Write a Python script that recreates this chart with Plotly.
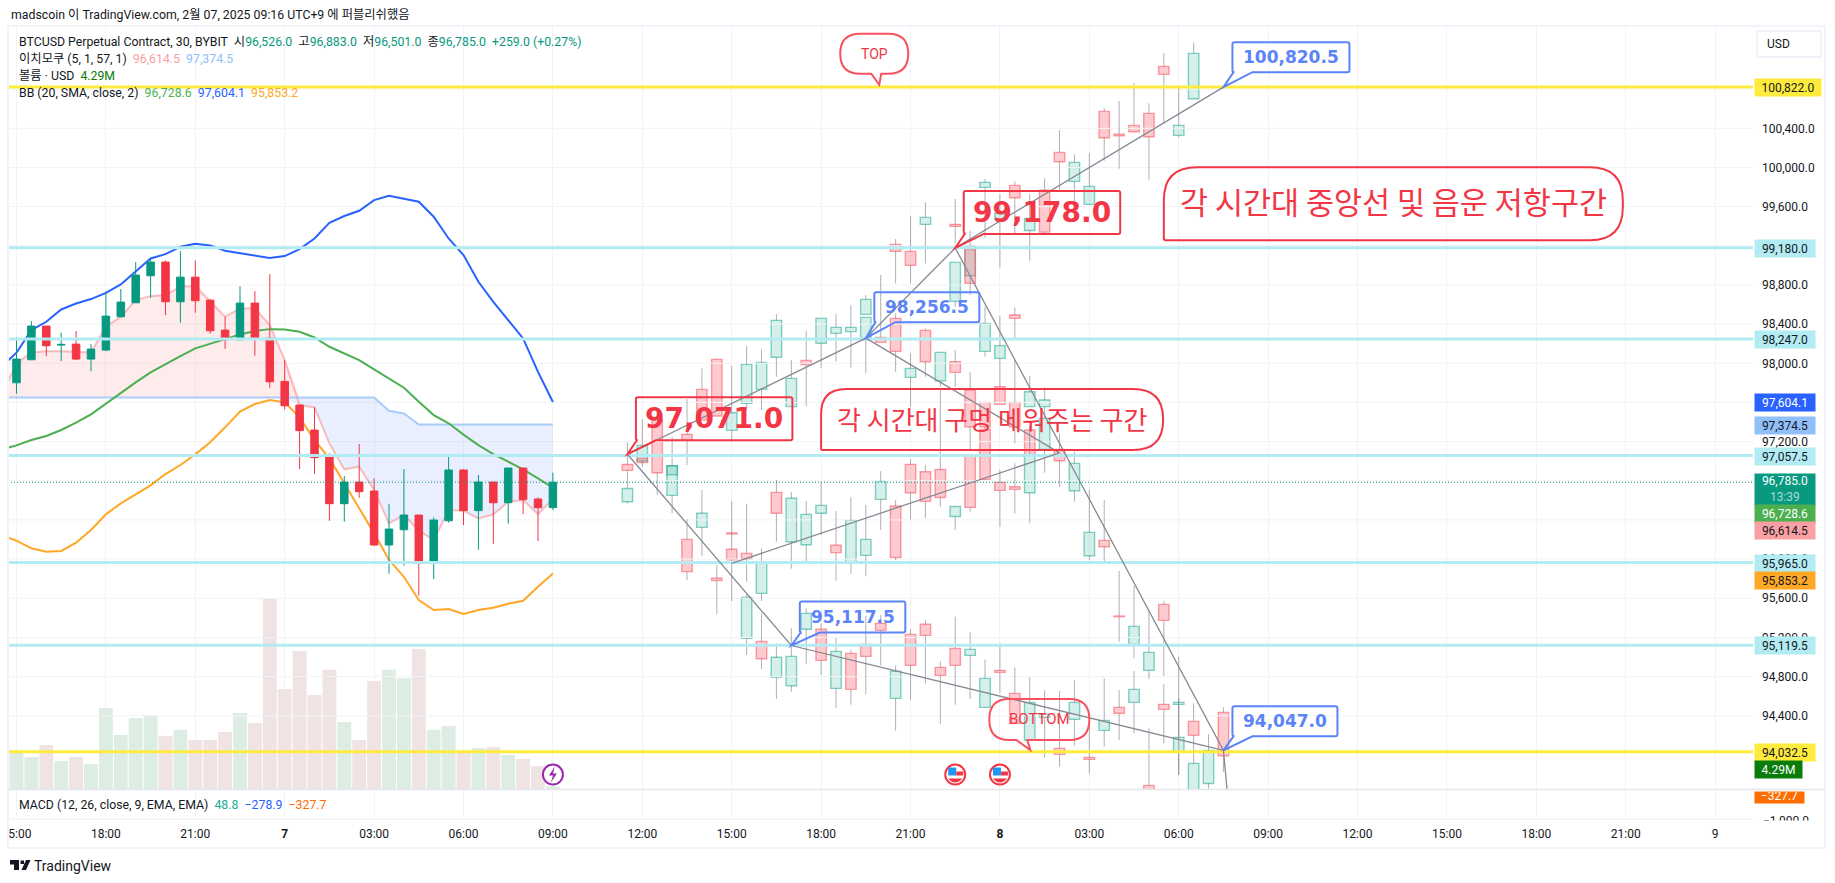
import pandas as pd
import plotly.graph_objects as go

W, H = 1835, 883
FONT = "Roboto, Noto Sans CJK KR, sans-serif"
NOTE_FONT = "DejaVu Sans, Noto Sans CJK KR, sans-serif"
KOREAN_FONT = "Noto Sans CJK KR, sans-serif"
INK = "#131722"
GREEN, RED = "#089981", "#f23645"
CALLOUT_RED, CALLOUT_BLUE = "#f23645", "#5b84f8"

# --- 30-minute BTCUSD candles, 6 Feb 15:00 to 7 Feb 09:00 ---
bar_open = [97801, 98036, 98380, 98186, 98196, 98043, 98135, 98475, 98618, 98894, 99034, 98628, 98880,
            98645, 98339, 98240, 98615, 98257, 97815, 97574, 97318, 97043, 96566, 96787, 96695, 96144,
            96300, 96450, 95963, 96392, 96910, 96495, 96787, 96576, 96930, 96614, 96526]
bar_high = [98264, 98431, 98380, 98312, 98329, 98196, 98734, 98758, 99034, 99078, 99051, 99146, 99051,
            98656, 98475, 98788, 98737, 98911, 98033, 97574, 97550, 97080, 96849, 97176, 96825, 96563,
            96920, 96450, 96426, 97063, 96920, 96859, 96787, 96930, 96930, 96631, 96883]
bar_low = [97689, 98036, 98073, 98022, 98033, 97920, 98124, 98475, 98618, 98669, 98492, 98414, 98516,
           98302, 98148, 98240, 98077, 97750, 97529, 96920, 96872, 96392, 96382, 96627, 96134, 95851,
           95933, 95626, 95796, 96372, 96348, 96096, 96157, 96362, 96460, 96185, 96501]
bar_close = [98043, 98380, 98179, 98193, 98043, 98145, 98482, 98625, 98901, 99034, 98628, 98880, 98639,
             98332, 98240, 98615, 98251, 97811, 97566, 97312, 97036, 96566, 96787, 96689, 96144, 96307,
             96450, 95963, 96399, 96910, 96495, 96787, 96576, 96930, 96607, 96525, 96785]
# volume in millions of USD; 1 marks an up bar
volume_m = [52.4, 46.2, 63.4, 40.5, 46.2, 36.2, 116.3, 77.7, 102.0, 106.3, 76.3, 84.9, 70.6, 70.6, 82.0,
            109.2, 94.9, 272.2, 143.5, 197.8, 134.9, 170.7, 96.3, 70.6, 154.9, 170.7, 159.2, 200.7, 84.9,
            90.6, 54.8, 59.1, 60.5, 49.1, 43.4, 33.4, 4.29]
volume_up = [1, 1, 0, 1, 0, 1, 1, 1, 1, 1, 0, 1, 0, 0, 0, 1, 0, 0, 0, 0, 0, 0, 1, 0, 0, 1, 1, 0, 1, 1, 0,
             1, 0, 1, 0, 0, 1]

# --- Indicators, one value per half hour starting 6 Feb 14:30 ---
bb_upper = [97965, 98108, 98339, 98424, 98550, 98611, 98656, 98720, 98806, 98935, 99071, 99115, 99190,
            99221, 99204, 99149, 99122, 99102, 99075, 99095, 99167, 99275, 99435, 99504, 99558, 99667,
            99711, 99681, 99650, 99497, 99275, 99105, 98833, 98628, 98441, 98254, 97913, 97604.1]
bb_basis = [97121, 97162, 97216, 97257, 97319, 97393, 97479, 97590, 97692, 97805, 97907, 97992, 98073,
            98152, 98203, 98247, 98295, 98329, 98349, 98346, 98322, 98264, 98169, 98101, 98033, 97937,
            97845, 97750, 97607, 97471, 97387, 97271, 97165, 97073, 96995, 96917, 96825, 96728.6]
bb_lower = [96246, 96188, 96110, 96076, 96083, 96168, 96297, 96457, 96569, 96665, 96753, 96869, 96961,
            97070, 97193, 97346, 97506, 97584, 97625, 97601, 97448, 97216, 97029, 96774, 96518, 96263,
            95991, 95820, 95582, 95480, 95490, 95439, 95480, 95504, 95545, 95575, 95718, 95853.2]
ichimoku_lead1 = [97675, 97999, 98111, 98124, 98124, 98118, 98111, 98373, 98475, 98646, 98686, 98697,
                  98782, 98789, 98628, 98475, 98560, 98560, 98390, 98033, 97573, 97549, 97182, 96917,
                  96944, 96706, 96365, 96450, 96290, 96195, 96501, 96495, 96416, 96457, 96586, 96604,
                  96460, 96614.5]
ichimoku_lead2 = [97651, 97651, 97651, 97651, 97651, 97651, 97651, 97651, 97651, 97651, 97651, 97651,
                  97651, 97651, 97651, 97651, 97651, 97651, 97651, 97651, 97651, 97651, 97651, 97651,
                  97651, 97651, 97515, 97488, 97374.5, 97374.5, 97374.5, 97374.5, 97374.5, 97374.5,
                  97374.5, 97374.5, 97374.5, 97374.5]
macd_last = [-278.9]

# --- Projected bar patterns: hours after 7 Feb 00:00 with OHLC ---
ghost_hours = [11.5, 11.5, 12, 12, 12.5, 13, 13, 13.5, 13.5, 14, 14, 14.5, 14.5, 15, 15, 15, 15.5, 15.5, 15.5,
               16, 16, 16, 16.5, 16.5, 16.5, 17, 17, 17, 17.5, 17.5, 17.5, 18, 18, 18, 18.5, 18.5, 18.5,
               19, 19, 19, 19.5, 19.5, 19.5, 19.5, 20, 20, 20, 20.5, 20.5, 20.5, 20.5, 21, 21, 21, 21,
               21.5, 21.5, 21.5, 21.5, 22, 22, 22, 22.5, 22.5, 22.5, 22.5, 22.5, 23, 23, 23, 23, 23,
               23.5, 23.5, 23.5, 23.5, 23.5, 24, 24, 24, 24, 24, 24.5, 24.5, 24.5, 24.5, 24.5,
               25, 25, 25, 25, 25, 25.5, 25.5, 25.5, 25.5, 26, 26, 26, 26.5, 26.5, 26.5,
               27, 27, 27, 27.5, 27.5, 27.5, 28, 28, 28, 28.5, 28.5, 28.5, 29, 29, 29,
               29.5, 29.5, 29.5, 30, 30, 30, 30.5, 30.5, 30.5, 31, 31.5]
ghost_open = [96967, 96586, 97002, 97029, 97420, 96862, 96651, 97274, 96202, 97734, 96324, 98040, 95804, 97315,
              96100, 96268, 97591, 96059, 95191, 97734, 95650, 95160, 98061, 96682, 94792, 97557, 96178,
              94707, 98030, 96147, 95283, 98204, 96468, 95283, 98306, 96141, 94680, 98323, 95967, 95037,
              98500, 98255, 96038, 95129, 98265, 96610, 95344, 99215, 98459, 96542, 94578, 99143, 97856,
              96968, 95231, 99419, 98336, 96893, 95334, 97822, 96916, 94894, 99419, 98632, 98016, 96436,
              95088, 98894, 99163, 97727, 97049, 95017, 99797, 98122, 97601, 97325, 94486, 99470, 98050,
              97761, 96784, 94864, 99817, 98493, 97601, 96739, 94629, 99357, 97557, 97318, 96678, 94149,
              99769, 97557, 97121, 94384, 100154, 97121, 94067, 99858, 96699, 94363, 99623, 96035, 93975,
              100573, 96191, 94251, 100341, 95419, 94486, 100430, 95129, 94537, 100553, 94864, 93689,
              101033, 95538, 94516, 100328, 94516, 94026, 100702, 94343, 93400, 93709, 94435]
ghost_high = [97192, 96807, 97427, 97029, 97523, 96954, 97250, 97635, 96406, 97948, 96706, 98050, 95940, 97972,
              96593, 96268, 98176, 96563, 95643, 98142, 96110, 95446, 98503, 96808, 95140, 98033, 96689,
              95293, 98333, 96593, 95497, 98459, 96791, 95344, 98503, 96491, 95194, 98592, 96631, 95071,
              98697, 98469, 96553, 95419, 98902, 96899, 95429, 99269, 98510, 96603, 94915, 99504, 98101,
              97019, 95286, 99643, 98357, 96961, 95378, 98112, 97727, 94956, 99678, 99031, 98135, 96538,
              95412, 99354, 99163, 97907, 97049, 95252, 99882, 98578, 97601, 97352, 94976, 99729, 98483,
              97761, 96910, 95140, 99858, 98571, 98033, 96978, 94894, 99729, 97873, 97318, 97352, 94792,
              99889, 97754, 97557, 94659, 100382, 97284, 94653, 100134, 97097, 94765, 100147, 96705, 94363,
              100604, 96603, 94782, 100679, 95878, 94663, 100862, 95725, 94857, 100655, 95473, 94271,
              101169, 95569, 94724, 100832, 95003, 94578, 101278, 94527, 93914, 94213, 94486]
ghost_low = [96807, 96569, 96944, 96985, 96654, 96862, 96467, 96961, 95787, 97420, 96032, 97461, 95439, 97199,
             95572, 96258, 97523, 95769, 95020, 97523, 95572, 94877, 97863, 96178, 94571, 97557, 95902,
             94646, 97563, 95974, 94928, 97948, 96246, 94816, 98016, 95780, 94482, 97955, 95848, 94513,
             98500, 97897, 95827, 94622, 98214, 96297, 94915, 98816, 97914, 95990, 94247, 98816, 97557,
             96406, 94564, 99020, 97863, 96419, 94731, 97761, 96535, 94319, 99225, 98578, 97761, 96297,
             94513, 98697, 98816, 97114, 96484, 94571, 99282, 98067, 97352, 96807, 94486, 98976, 97761,
             97580, 96331, 94629, 99327, 98238, 97182, 96467, 94322, 99048, 97557, 97063, 96365, 94149,
             99327, 97557, 96882, 93972, 99752, 96739, 93880, 99650, 96586, 94094, 99616, 95990, 93808,
             100069, 95973, 94084, 99987, 95157, 94152, 100365, 94986, 94220, 99875, 94775, 93500,
             100450, 94809, 94118, 100304, 93794, 93794, 100702, 93914, 93400, 93655, 93829]
ghost_close = [96906, 96722, 97162, 96985, 96882, 96954, 96954, 97213, 95872, 97420, 96468, 97461, 95780, 97495,
               95994, 96258, 97989, 96004, 95609, 98009, 95967, 94983, 98438, 96468, 94997, 97846, 96621,
               95007, 97986, 96457, 95446, 98459, 96549, 94966, 98367, 96066, 95058, 98367, 96396, 94670,
               98653, 98469, 96202, 95007, 98214, 96794, 95272, 99143, 98122, 96017, 94854, 99000, 97948,
               96678, 94915, 99490, 98016, 96590, 95221, 98112, 96630, 94813, 99398, 99031, 97907, 96538,
               94915, 99201, 98816, 97352, 96528, 95078, 99848, 98408, 97352, 96814, 94782, 99531, 98180,
               97580, 96702, 94843, 99691, 98459, 97352, 96712, 94322, 99480, 97710, 97063, 97063, 94537,
               99340, 97625, 97437, 94414, 100059, 97005, 94006, 100052, 96978, 94537, 99807, 96273, 93955,
               100304, 96127, 94353, 100324, 95412, 94425, 100365, 95313, 94670, 100314, 95048, 93500,
               100951, 95374, 94465, 100430, 94537, 94179, 101165, 94200, 93914, 94047, 93992]

# --- Drawn swing lines ---
swing_up_hours, swing_up_prices = [11.5, 19.5, 22.5, 31.5], [97071.0, 98256.5, 99178.0, 100820.5]
swing_low_hours, swing_low_prices = [11.5, 17, 31.5], [97071.0, 95117.5, 94047.0]
swing_mid_hours, swing_mid_prices = [19.5, 26, 15], [98256.5, 97085, 95957]
swing_drop_hours, swing_drop_prices = [22.5, 31.5, 32], [99178.0, 94047.0, 92400]

# --- Horizontal levels ---
aqua_levels = [99180.0, 98247.0, 97057.5, 95965.0, 95119.5]
yellow_levels = [100822.0, 94032.5]
last_price = 96785.0
price_ticks = [94400, 94800, 95200, 95600, 96000, 97200, 98000, 98400, 98800, 99600, 100000, 100400]
price_grid = [94400, 94800, 95200, 95600, 96000, 96400, 96800, 97200, 97600, 98000, 98400, 98800, 99200,
              99600, 100000, 100400, 100800]

# --- Time axis ---
axis_hours = [-9, -6, -3, 0, 3, 6, 9, 12, 15, 18, 21, 24, 27, 30, 33, 36, 39, 42, 45, 48]
axis_labels = ["15:00", "18:00", "21:00", "<b>7</b>", "03:00", "06:00", "09:00", "12:00", "15:00", "18:00",
               "21:00", "<b>8</b>", "03:00", "06:00", "09:00", "12:00", "15:00", "18:00", "21:00", "9"]

DAY = pd.Timestamp("2025-02-07")


def at(hours):
    return [DAY + pd.Timedelta(hours=float(h)) for h in hours]


def X(px):
    return px / W


def Y(px):
    return 1 - px / H


bar_times = pd.date_range("2025-02-06 15:00", periods=len(bar_open), freq="30min")
line_times = pd.date_range("2025-02-06 14:30", periods=len(bb_upper), freq="30min")
x_range = ["2025-02-06 14:42:54", "2025-02-09 01:16:12"]
price_range = [93649, 101445]
BAR_MS = 1800000
GRID = "#f2f3f5"

fig = go.Figure()

# Volume sits on the base axis so that everything else paints over it
fig.add_bar(x=bar_times, y=volume_m, yaxis="y", width=0.93 * BAR_MS,
            marker=dict(color=["#deede3" if u else "#efe3e4" for u in volume_up], line_width=0))

# The MACD pane carries no visible line at this scale; the point keeps the pane in the layout
fig.add_scatter(x=bar_times[-1:], y=macd_last, yaxis="y3", mode="lines", line=dict(color="#2962ff", width=1))


def line(x, y, color, width=1.5, axis="y2", dash="solid", **kw):
    fig.add_scatter(x=x, y=y, yaxis=axis, mode="lines", line=dict(color=color, width=width, dash=dash), **kw)


# Horizontal price grid, including levels whose axis labels sit behind the price tags
for level in price_grid:
    line(x_range, [level, level], GRID, 1, "y2")

# Ichimoku cloud: red where lead 1 is above lead 2, blue where it is below
cloud_top = [max(a, b) for a, b in zip(ichimoku_lead1, ichimoku_lead2)]
cloud_bottom = [min(a, b) for a, b in zip(ichimoku_lead1, ichimoku_lead2)]
line(line_times, ichimoku_lead2, "rgba(0,0,0,0)", 0)
line(line_times, cloud_top, "rgba(0,0,0,0)", 0, fill="tonexty", fillcolor="rgba(242,54,69,0.10)")
line(line_times, ichimoku_lead2, "rgba(0,0,0,0)", 0)
line(line_times, cloud_bottom, "rgba(0,0,0,0)", 0, fill="tonexty", fillcolor="rgba(41,98,255,0.10)")
line(line_times, ichimoku_lead1, "rgba(247,150,155,0.62)", 2)
line(line_times, ichimoku_lead2, "rgba(144,191,249,0.75)", 2)
line(line_times, bb_basis, "#4caf50", 2)
line(line_times, bb_upper, "#2962ff", 2)
line(line_times, bb_lower, "#ffa726", 2)

# Projected patterns: pale bodies with grey wicks that stop at the body
ghosts = pd.DataFrame(dict(t=at(ghost_hours), o=ghost_open, h=ghost_high, l=ghost_low, c=ghost_close))
ghosts["top"] = ghosts[["o", "c"]].max(axis=1)
ghosts["bottom"] = ghosts[["o", "c"]].min(axis=1)
wick_x, wick_y = [], []
for row in ghosts.itertuples():
    wick_x += [row.t, row.t, None, row.t, row.t, None]
    wick_y += [row.h, row.top, None, row.bottom, row.l, None]
line(wick_x, wick_y, "rgba(110,112,120,0.55)", 1)
for rising, fill, edge in [(True, "rgba(34,171,148,0.19)", "rgba(34,171,148,0.55)"),
                           (False, "rgba(247,82,95,0.30)", "rgba(247,82,95,0.55)")]:
    part = ghosts[(ghosts.c >= ghosts.o) == rising]
    fig.add_bar(x=part.t, base=part.bottom, y=part.top - part.bottom, yaxis="y2", width=0.7 * BAR_MS,
                marker=dict(color=fill, line=dict(color=edge, width=1.4)))

fig.add_candlestick(x=bar_times, open=bar_open, high=bar_high, low=bar_low, close=bar_close, yaxis="y4",
                    increasing=dict(line=dict(color=GREEN, width=1), fillcolor=GREEN),
                    decreasing=dict(line=dict(color=RED, width=1), fillcolor=RED))

line(x_range, [last_price, last_price], GREEN, 1, "y4", "1px,2px")
for level in aqua_levels:
    line(x_range, [level, level], "#b2ebf2", 3, "y4")
for level in yellow_levels:
    line(x_range, [level, level], "#ffeb3b", 3, "y4")

for hours, prices in [(swing_up_hours, swing_up_prices), (swing_low_hours, swing_low_prices),
                      (swing_mid_hours, swing_mid_prices), (swing_drop_hours, swing_drop_prices)]:
    line(at(hours), prices, "#868993", 1.3, "y4")

shapes, notes = [], []


def box_path(x0, y0, x1, y1, radii, tail=None):
    """Rounded box in pixels (y grows downward), optionally with a tail reaching the origin."""
    tl, tr, br, bl = radii
    p = [f"M{x0 + tl},{-y0}", f"L{x1 - tr},{-y0}", f"Q{x1},{-y0} {x1},{-(y0 + tr)}",
         f"L{x1},{-(y1 - br)}", f"Q{x1},{-y1} {x1 - br},{-y1}"]
    if tail:
        p += [f"L{tail[1]},{-y1}", f"L{tail[2]},{-tail[3]}", f"L{tail[0]},{-y1}"]
    p += [f"L{x0 + bl},{-y1}", f"Q{x0},{-y1} {x0},{-(y1 - bl)}", f"L{x0},{-(y0 + tl)}",
          f"Q{x0},{-y0} {x0 + tl},{-y0}", "Z"]
    return " ".join(p)


def pinned(hours, price, path, color, width=2, fill=None):
    """A pixel-sized drawing pinned to a time and price."""
    shapes.append(dict(type="path", xref="x", yref="y4", xsizemode="pixel", ysizemode="pixel",
                       xanchor=DAY + pd.Timedelta(hours=hours), yanchor=price, path=path,
                       line=dict(color=color, width=width), fillcolor=fill or "rgba(0,0,0,0)"))


def pinned_text(hours, price, text, size, color, dx, dy, family=NOTE_FONT, bold=False):
    notes.append(dict(xref="x", yref="y4", x=DAY + pd.Timedelta(hours=hours), y=price, xshift=dx, yshift=-dy,
                      text=f"<b>{text}</b>" if bold else text, showarrow=False,
                      font=dict(family=family, size=size, color=color)))


def callout(hours, price, label, color, size, dx0, dx1, dy0, dy1, tail_right):
    tail = (dx0 + 1, dx0 + tail_right, 0, 0)
    pinned(hours, price, box_path(dx0, dy0, dx1, dy1, (2, 2, 2, 2), tail), color)
    pinned_text(hours, price, label, size, color, (dx0 + dx1) / 2, (dy0 + dy1) / 2, bold=True)


callout(swing_up_hours[0], swing_up_prices[0], "97,071.0", CALLOUT_RED, 28, 8.5, 165, -57, -14, 20)
callout(swing_up_hours[2], swing_up_prices[2], "99,178.0", CALLOUT_RED, 28, 8.5, 165, -57, -14, 20)
callout(swing_up_hours[1], swing_up_prices[1], "98,256.5", CALLOUT_BLUE, 17, 8.5, 113.5, -46, -16, 21)
callout(swing_up_hours[3], swing_up_prices[3], "100,820.5", CALLOUT_BLUE, 17, 9, 126, -45, -15, 20)
callout(swing_low_hours[1], swing_low_prices[1], "95,117.5", CALLOUT_BLUE, 17, 8.5, 114, -44, -13, 20)
callout(swing_low_hours[2], swing_low_prices[2], "94,047.0", CALLOUT_BLUE, 17, 9, 114, -44, -14, 20)

# Balloon notes: the pin is the tail tip, or the square corner for the large ones
pinned(19.95, 100845, box_path(-39, -51, 29, -11, (20, 20, 20, 20), (-8, 2, 0, 0)), "#f7525f")
pinned_text(19.95, 100845, "TOP", 14, RED, -5, -31, FONT)
pinned(25.02, 94050, box_path(-41, -51, 59, -10, (20, 20, 20, 20), (-14, -3, 0, 0)), "#f7525f")
pinned_text(25.02, 94050, "BOTTOM", 15, RED, 9, -31, FONT)
pinned(18, 97114, box_path(0, -61, 342, 0, (25, 30, 30, 1)), RED)
pinned_text(18, 97114, "각 시간대 구멍 메워주는 구간", 26, RED, 171, -32, KOREAN_FONT)
pinned(29.5, 99256, box_path(0, -73, 459, 0, (33, 33, 33, 2)), RED)
pinned_text(29.5, 99256, "각 시간대 중앙선 및 음운 저항구간", 30.5, RED, 230, -39, KOREAN_FONT)


def circle(r):
    k = 0.5523 * r
    return (f"M{-r},0 C{-r},{k} {-k},{r} 0,{r} C{k},{r} {r},{k} {r},0 "
            f"C{r},{-k} {k},{-r} 0,{-r} C{-k},{-r} {-r},{-k} {-r},0 Z")


def event_icon(hours, price, pieces, ring):
    pinned(hours, price, circle(10), ring, 2, "#ffffff")
    for path, color in pieces:
        pinned(hours, price, path, "rgba(0,0,0,0)", 0, color)


# Row of event markers under the price action
ICON_PRICE = 93800
flag = [("M-7,7 L1,7 L1,-1 L-7,-1 Z", "#2196f3"), ("M1,3 L8,3 L8,-1 L1,-1 Z", RED),
        ("M-7,-4 L7,-4 Q4,-8 0,-8 Q-4,-8 -7,-4 Z", RED)]
event_icon(22.5, ICON_PRICE, flag, RED)
event_icon(24, ICON_PRICE, flag, RED)
event_icon(9, ICON_PRICE, [("M2,8 L-4,-1 L0,-1 L-2,-8 L4,1 L0,1 Z", "#9c27b0")], "#9c27b0")


def rule(x0, y0, x1, y1, color, width=1):
    shapes.append(dict(type="line", xref="paper", yref="paper", x0=X(x0), x1=X(x1), y0=Y(y0), y1=Y(y1),
                       line=dict(color=color, width=width)))


def sheet_path(path, color):
    shapes.append(dict(type="path", xref="paper", yref="paper", path=path, fillcolor=color, line_width=0))


def rect_path(x0, y0, x1, y1):
    return f"M{X(x0)},{Y(y0)} L{X(x1)},{Y(y0)} L{X(x1)},{Y(y1)} L{X(x0)},{Y(y1)} Z"


# Frame and pane separators; the white strip trims the first time label at the frame
sheet_path(rect_path(0, 824, 8.5, 845), "#ffffff")
FRAME = "#f0f3fa"
rule(8, 26, 1825, 26, FRAME, 2)
rule(8, 848, 1825, 848, FRAME, 2)
rule(8, 26, 8, 848, FRAME, 2)
rule(1825, 26, 1825, 848, FRAME, 2)
rule(8, 789.5, 1825, 789.5, "#e4e6eb", 1.5)
rule(8, 819, 1753, 819, FRAME, 1.5)

# Currency button
shapes.append(dict(type="rect", xref="paper", yref="paper", x0=X(1757), x1=X(1821), y0=Y(31), y1=Y(57),
                   line=dict(color=FRAME, width=2), fillcolor="rgba(0,0,0,0)"))


def sheet_text(x, y, text, size=12.3, color=INK, anchor="left"):
    notes.append(dict(xref="paper", yref="paper", x=X(x), y=Y(y), xanchor=anchor, yanchor="middle", text=text,
                      showarrow=False, align="left", borderpad=0, font=dict(family=FONT, size=size, color=color)))


def tint(text, color):
    return f'<span style="color:{color}">{text}</span>'


sheet_text(1766, 44.5, "USD", 12)
sheet_text(10, 14.5, "madscoin 이 TradingView.com, 2월 07, 2025 09:16 UTC+9 에 퍼블리쉬했음")
sheet_text(18, 41.5, "BTCUSD Perpetual Contract, 30, BYBIT  시" + tint("96,526.0", GREEN) + "  고" + tint("96,883.0", GREEN)
           + "  저" + tint("96,501.0", GREEN) + "  종" + tint("96,785.0", GREEN) + "  " + tint("+259.0 (+0.27%)", GREEN))
sheet_text(18, 58.5, "이치모쿠 (5, 1, 57, 1)  " + tint("96,614.5", "#f9a0a3") + "  " + tint("97,374.5", "#90bff9"))
sheet_text(18, 76, "볼륨 · USD  " + tint("4.29M", "#0a7c0a"))
sheet_text(18, 93, "BB (20, SMA, close, 2)  " + tint("96,728.6", "#4caf50") + "  " + tint("97,604.1", "#2962ff") + "  "
           + tint("95,853.2", "#ffa726"))
sheet_text(18, 804.5, "MACD (12, 26, close, 9, EMA, EMA)  " + tint("48.8", "#22ab94") + "  " + tint("−278.9", "#2962ff")
           + "  " + tint("−327.7", "#ff6d00"))
sheet_text(33, 866, "TradingView", 14)

# TradingView mark
sheet_path(f"M{X(10)},{Y(860)} L{X(19)},{Y(860)} L{X(19)},{Y(870)} L{X(14)},{Y(870)} L{X(14)},{Y(864.5)} "
           f"L{X(10)},{Y(864.5)} Z", INK)
sheet_path(rect_path(20.5, 860.5, 24, 864), INK)
sheet_path(f"M{X(26)},{Y(860)} L{X(30.5)},{Y(860)} L{X(26)},{Y(870)} L{X(21.5)},{Y(870)} Z", INK)


def tag(text, y0, y1, bg, color=INK, width=60, valign="middle"):
    notes.append(dict(xref="paper", yref="paper", x=X(1754), y=Y(y0), xanchor="left", yanchor="top", width=width,
                      height=y1 - y0, bgcolor=bg, borderpad=0, showarrow=False, align="center", valign=valign,
                      text=text, font=dict(family=FONT, size=12, color=color)))


AQUA, YELLOW = "#b2ebf2", "#ffeb3b"
tag("100,822.0", 78.5, 95.5, YELLOW, width=66)
tag("99,180.0", 239, 256, AQUA)
tag("98,247.0", 330, 347, AQUA)
tag("97,604.1", 393, 410, "#2962ff", "#ffffff")
tag("97,374.5", 416, 433, "#90bff9")
tag("97,057.5", 447, 464, AQUA)
tag("96,785.0<br>" + tint("13:39", "#a5dcd2"), 473, 503.5, GREEN, "#ffffff")
tag("96,728.6", 503.5, 521, "#4caf50", "#ffffff")
tag("96,614.5", 521, 538, "#f9a0a3")
tag("95,965.0", 554, 571, AQUA)
tag("95,853.2", 571, 588, "#ffa726")
tag("95,119.5", 636, 653, AQUA)
tag("94,032.5", 743, 760, YELLOW)
tag("4.29M", 760, 777, "#0a7c0a", "#ffffff", width=47)
tag("−327.7", 790.5, 801, "#ff6d00", "#ffffff", width=49, valign="bottom")
notes.append(dict(xref="paper", yref="paper", x=X(1762), y=Y(812.5), xanchor="left", yanchor="top", width=50,
                  height=6.5, borderpad=0, showarrow=False, align="left", valign="top", text="−1,000.0",
                  font=dict(family=FONT, size=12, color=INK)))

fig.update_layout(
    width=W, height=H, autosize=False, margin=dict(l=0, r=0, t=0, b=0, autoexpand=False), showlegend=False,
    paper_bgcolor="#ffffff", plot_bgcolor="#ffffff", barmode="overlay", boxgap=0.28, dragmode=False,
    font=dict(family=FONT, size=12, color=INK), shapes=shapes, annotations=notes,
    xaxis=dict(type="date", domain=[X(8), X(1753)], range=x_range, anchor="y3", rangeslider=dict(visible=False),
               tickmode="array", tickvals=at(axis_hours), ticktext=axis_labels, showgrid=True, gridcolor=GRID,
               gridwidth=1, zeroline=False, ticks="", ticklabelstandoff=6, tickfont=dict(family=FONT, size=12, color=INK)),
    yaxis=dict(domain=[Y(789.3), Y(26)], range=[0, 1091], visible=False, fixedrange=True, anchor="x"),
    yaxis2=dict(overlaying="y", side="right", anchor="x", range=price_range, tickmode="array", tickvals=price_ticks,
                tickformat=",.1f", showgrid=False, zeroline=False, ticks="",
                ticklabelstandoff=8, tickfont=dict(family=FONT, size=12, color=INK)),
    yaxis3=dict(domain=[Y(819), Y(789.3)], range=[-1000, -170], visible=False, anchor="x"),
    yaxis4=dict(overlaying="y", side="right", anchor="x", range=price_range, visible=False),
)

fig.write_html("out.html", config=dict(displayModeBar=False))
